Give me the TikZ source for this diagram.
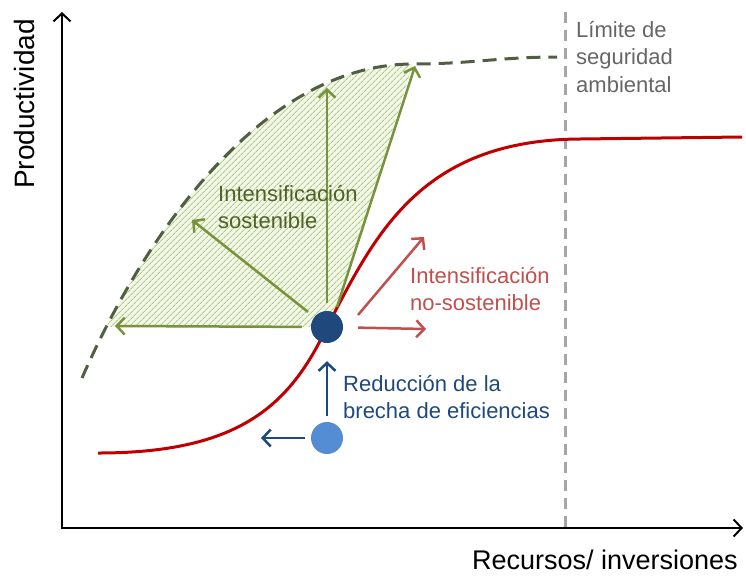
\documentclass[tikz,border=0pt]{standalone}
\usepackage{fontspec}
\setmainfont{Liberation Sans}
\usetikzlibrary{patterns.meta,arrows.meta}
\definecolor{darkred}{RGB}{192,0,0}
\definecolor{softred}{RGB}{192,80,77}
\definecolor{navy}{RGB}{31,73,125}
\definecolor{skyblue}{RGB}{84,141,212}
\definecolor{leaf}{RGB}{119,147,60}
\definecolor{olive}{RGB}{79,98,40}
\definecolor{frontgray}{RGB}{82,94,68}
\definecolor{hatchgreen}{RGB}{175,202,128}
\definecolor{hatchbg}{RGB}{242,247,233}
\begin{document}
\begin{tikzpicture}[x=1pt,y=-1pt,>={Straight Barb[length=8pt,width=17pt]}]
        \tikzstyle{dot}=[circle,inner sep=0pt,minimum size=32pt]
        \tikzstyle{axis}=[<->,line width=2pt,black]
        \tikzstyle{note}=[font=\fontsize{22}{27.5}\selectfont,align=left,anchor=west,inner sep=0pt]
        \tikzstyle{greenarrow}=[->,line width=2.5pt,leaf]
        \tikzstyle{redarrow}=[->,line width=2.5pt,softred]
        \tikzstyle{bluearrow}=[->,line width=2.5pt,navy]
        \tikzstyle{frontier}=[line width=3pt,frontgray,dash pattern=on 14pt off 8pt]
        \tikzstyle{limit}=[line width=3pt,black!35,dash pattern=on 11pt off 7pt]
       \useasboundingbox (0,0) rectangle (746,579);
       \begin{scope}
         % axes
         \coordinate (ytop) at (62,12);
         \coordinate (origin) at (62,528);
         \coordinate (xend) at (743,528);
         \node [rotate=90,font=\fontsize{28}{30}\selectfont] (ylab) at (24,104) {Productividad};
         \node [font=\fontsize{27}{30}\selectfont] (xlab) at (605,560) {Recursos/ inversiones};

         % hatched area
         \begin{scope}
           \clip (0,0) rectangle (746,326);
           \fill[hatchbg] (82,378) .. controls (145,234) and (263,64) .. (413,64) -- (315,378) -- cycle;
           \fill[pattern={Lines[angle=45,distance=4pt,line width=1pt]},pattern color=hatchgreen] (82,378) .. controls (145,234) and (263,64) .. (413,64) -- (315,378) -- cycle;
         \end{scope}

         \coordinate (limtop) at (565,12);
         \coordinate (limbot) at (565,528);
         \draw[limit] (limtop) -- (limbot);
         \node [note,black!60] (limtxt) at (576,57) {Límite de\\seguridad\\ambiental};

         \draw[frontier] (82,378) .. controls (145,234) and (263,64) .. (413,64) .. controls (470,64) and (500,57) .. (557,57);

         \draw[axis] (ytop) -- (origin) -- (xend);

         % production curve
         \draw[darkred,line width=3pt] (98,453) .. controls (240,453) and (290,405) .. (327,327) .. controls (375,235) and (420,140) .. (580,139) -- (742,137);

         \node [dot,fill=navy] (now) at (327,327) {};
         \node [dot,fill=skyblue] (low) at (327,438) {};

         \coordinate (gl) at (115,326);
         \coordinate (gd) at (192,220);
         \coordinate (gu) at (327,88);
         \coordinate (gr) at (415,66);
         \coordinate (gr0) at (337,307);
         \draw[greenarrow,shorten <=9pt] (now) -- (gl);
         \draw[greenarrow,shorten <=8pt] (now) -- (gd);
         \draw[greenarrow,shorten <=8pt] (now) -- (gu);
         \draw[greenarrow] (gr0) -- (gr);
         \node [note,olive] (sost) at (218,207) {Intensificación\\sostenible};

         \coordinate (rr) at (426,329);
         \coordinate (rd0) at (358,315);
         \coordinate (rd) at (424,237);
         \draw[redarrow,shorten <=15pt] (now) -- (rr);
         \draw[redarrow] (rd0) -- (rd);
         \node [note,softred] (nosost) at (410,289) {Intensificación\\no-sostenible};

         \coordinate (bl) at (261,438);
         \draw[bluearrow,shorten <=6pt,shorten >=18pt] (low) -- (now);
         \draw[bluearrow,shorten <=6pt] (low) -- (bl);
         \node [note,navy] (brecha) at (343,397) {Reducción de la\\brecha de eficiencias};
        \end{scope}
      \end{tikzpicture}
\end{document}
